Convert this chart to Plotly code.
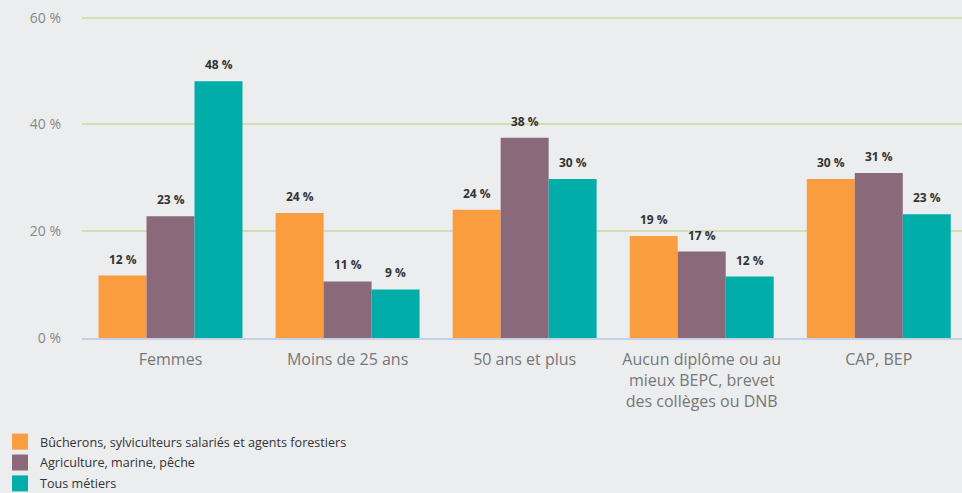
import plotly.graph_objects as go

categories = ["Femmes", "Moins de 25 ans", "50 ans et plus",
              "Aucun diplôme ou au<br>mieux BEPC, brevet<br>des collèges ou DNB", "CAP, BEP"]
series_names = ["Bûcherons, sylviculteurs salariés et agents forestiers",
                "Agriculture, marine, pêche", "Tous métiers"]
bucherons = [11.7, 23.4, 24.0, 19.1, 29.8]
agriculture = [22.8, 10.6, 37.5, 16.2, 30.9]
tous = [48.1, 9.1, 29.8, 11.5, 23.2]
labels_b = [12, 24, 24, 19, 30]
labels_a = [23, 11, 38, 17, 31]
labels_t = [48, 9, 30, 12, 23]
colors = ["#F99D3E", "#8A6A7A", "#00ADA9"]
y_ticks = [0, 20, 40, 60]

BARGAP = 0.187
n_series = 3
bar_w = (1 - BARGAP) / n_series

fig = go.Figure()
annotations = []
for j, (name, vals, labs, col) in enumerate(zip(series_names, [bucherons, agriculture, tous],
                                                [labels_b, labels_a, labels_t], colors)):
    fig.add_trace(go.Bar(
        x=categories, y=vals, name=name, marker=dict(color=col, line=dict(width=0)),
        legendgroup=name, showlegend=False,
    ))
    # legend entry with a larger square swatch
    fig.add_trace(go.Scatter(
        x=[categories[0]], y=[None], name=name, mode="markers", legendgroup=name,
        marker=dict(symbol="square", size=16, color=col, line=dict(width=0)),
        hoverinfo="skip",
    ))
    for i, (v, lab) in enumerate(zip(vals, labs)):
        annotations.append(dict(
            x=i + (j - 1) * bar_w, y=v, xref="x", yref="y", text=f"{lab} %",
            showarrow=False, yanchor="bottom", yshift=6,
            font=dict(family="Open Sans", size=12, color="#333333", weight="bold"),
        ))

fig.update_layout(
    width=962, height=493,
    margin=dict(l=82, r=0, t=15, b=155, autoexpand=False),
    paper_bgcolor="#ECEDEF", plot_bgcolor="#ECEDEF",
    barmode="group", bargap=BARGAP, bargroupgap=0,
    font=dict(family="Open Sans", color="#777777"),
    xaxis=dict(range=[-0.5, 4.47], tickfont=dict(size=16, color="#777777"),
               showgrid=False, showline=True, linecolor="#C6D1E6", linewidth=2,
               ticks="", tickangle=0, automargin=False, ticklabelstandoff=6),
    yaxis=dict(range=[0, 60.5], tickvals=y_ticks, ticktext=[f"{v} %" for v in y_ticks],
               tickfont=dict(size=14, color="#888888"), gridcolor="#D3DFAE",
               gridwidth=1.5, zeroline=False, ticklabelstandoff=20, automargin=False),
    legend=dict(xref="container", yref="container", x=0, y=0.134,
                xanchor="left", yanchor="top", bgcolor="rgba(0,0,0,0)",
                tracegroupgap=1.5,
                font=dict(family="Open Sans", size=12.6, color="#333333")),
    annotations=annotations,
    showlegend=True,
)
fig.write_html("out.html", config={"displayModeBar": False},
               post_script="document.body.style.margin='0';")
